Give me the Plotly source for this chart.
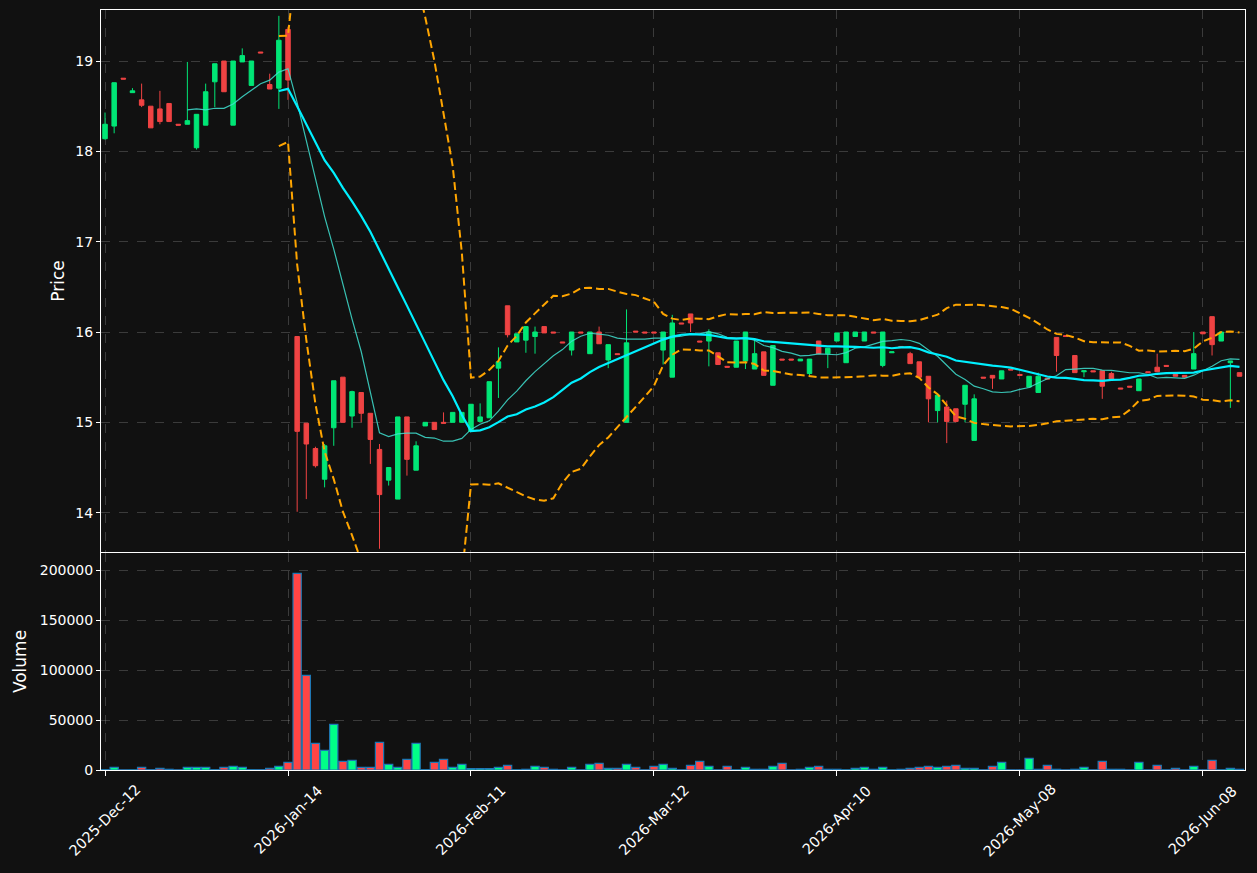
import pandas as pd
import numpy as np
import plotly.graph_objects as go

# ---------------- data ----------------
start_date = "2025-12-12"
holidays = ["2025-12-25", "2025-12-26", "2026-01-01", "2026-02-16", "2026-04-03", "2026-05-25"]
n_days = 125
dates = [d for d in pd.bdate_range(start_date, periods=140) if d.strftime("%Y-%m-%d") not in holidays][:n_days]
date_labels = [d.strftime("%Y-%b-%d") for d in dates]

open_ = [18.14, 18.28, 18.81, 18.65, 18.57, 18.50, 18.47, 18.53, 18.30, 18.30,
         18.04, 18.29, 18.77, 19.00, 18.29, 18.99, 18.73, 19.10, 18.74, 18.70,
         19.35, 15.95, 14.99, 14.71, 14.37, 14.94, 15.50, 15.07, 15.33, 15.10,
         14.70, 14.36, 14.15, 15.06, 14.47, 14.96, 15.00, 15.00, 15.00, 15.00,
         14.90, 15.01, 15.05, 15.60, 16.29, 15.89, 15.91, 15.95, 16.06, 16.00,
         15.89, 15.80, 16.00, 15.76, 16.00, 15.69, 15.76, 15.00, 16.01, 16.00,
         16.00, 15.80, 15.50, 16.10, 16.20, 15.90, 15.90, 15.77, 15.62, 15.61,
         15.68, 15.59, 15.78, 15.41, 15.70, 15.70, 15.68, 15.54, 15.90, 15.76,
         15.90, 15.66, 15.95, 15.90, 16.00, 15.63, 15.77, 15.84, 15.76, 15.67,
         15.51, 15.13, 15.17, 15.15, 15.20, 14.80, 15.50, 15.52, 15.48, 15.59,
         15.53, 15.39, 15.33, 15.49, 15.94, 15.96, 15.74, 15.56, 15.57, 15.57,
         15.54, 15.38, 15.40, 15.35, 15.56, 15.61, 15.63, 15.53, 15.52, 15.59,
         16.00, 16.17, 15.90, 15.66, 15.55]
high = [18.43, 18.76, 18.81, 18.70, 18.75, 18.50, 18.67, 18.53, 18.30, 18.99,
        18.41, 18.75, 18.97, 19.00, 19.00, 19.14, 19.00, 19.10, 18.86, 19.50,
        19.38, 15.95, 14.99, 14.73, 14.76, 15.46, 15.50, 15.35, 15.33, 15.10,
        14.76, 14.50, 15.06, 15.06, 14.79, 15.00, 15.00, 15.11, 15.11, 15.11,
        15.20, 15.21, 15.45, 15.83, 16.29, 15.98, 16.06, 16.06, 16.06, 16.00,
        15.89, 16.00, 16.00, 16.00, 16.06, 15.86, 15.76, 16.25, 16.01, 16.00,
        16.00, 16.00, 16.19, 16.10, 16.20, 15.90, 16.03, 15.77, 15.62, 15.90,
        16.00, 15.92, 15.78, 15.85, 15.70, 15.70, 15.70, 15.70, 15.90, 15.82,
        15.99, 16.00, 16.00, 16.00, 16.00, 16.00, 15.78, 15.84, 15.78, 15.67,
        15.51, 15.30, 15.24, 15.15, 15.41, 15.31, 15.50, 15.52, 15.57, 15.59,
        15.53, 15.51, 15.55, 15.49, 15.94, 15.96, 15.74, 15.57, 15.57, 15.57,
        15.56, 15.38, 15.40, 15.48, 15.56, 15.76, 15.63, 15.53, 15.52, 16.00,
        16.00, 16.17, 16.00, 15.68, 15.55]
low = [18.13, 18.20, 18.80, 18.65, 18.49, 18.26, 18.30, 18.33, 18.29, 18.30,
       18.02, 18.29, 18.49, 18.66, 18.29, 18.99, 18.73, 19.09, 18.69, 18.47,
       18.57, 14.01, 14.15, 14.50, 14.28, 14.74, 15.00, 14.94, 15.00, 14.54,
       13.60, 14.30, 14.15, 14.41, 14.47, 14.96, 14.92, 14.99, 15.00, 15.00,
       14.90, 15.00, 15.05, 15.27, 15.94, 15.89, 15.77, 15.76, 15.99, 15.99,
       15.88, 15.74, 15.99, 15.76, 15.87, 15.60, 15.75, 15.00, 16.00, 15.99,
       15.99, 15.64, 15.50, 16.09, 16.00, 15.89, 15.62, 15.64, 15.61, 15.61,
       15.59, 15.59, 15.52, 15.41, 15.69, 15.69, 15.68, 15.52, 15.76, 15.60,
       15.90, 15.66, 15.95, 15.90, 15.99, 15.61, 15.77, 15.83, 15.65, 15.50,
       15.00, 15.00, 14.77, 15.00, 15.00, 14.80, 15.49, 15.37, 15.48, 15.58,
       15.52, 15.39, 15.33, 15.48, 15.56, 15.95, 15.55, 15.50, 15.56, 15.26,
       15.48, 15.37, 15.39, 15.35, 15.55, 15.56, 15.62, 15.51, 15.50, 15.59,
       15.98, 15.74, 15.90, 15.16, 15.51]
close = [18.30, 18.76, 18.80, 18.67, 18.51, 18.26, 18.33, 18.33, 18.29, 18.34,
         18.41, 18.66, 18.97, 18.66, 19.00, 19.06, 19.00, 19.09, 18.69, 19.23,
         18.79, 14.90, 14.76, 14.52, 14.74, 15.46, 15.00, 15.34, 15.10, 14.81,
         14.20, 14.50, 15.06, 14.59, 14.74, 15.00, 14.92, 14.99, 15.11, 15.11,
         15.20, 15.06, 15.45, 15.67, 15.97, 15.98, 16.06, 16.00, 15.99, 15.99,
         15.88, 16.00, 15.99, 16.00, 15.87, 15.86, 15.75, 15.88, 16.00, 15.99,
         15.99, 16.00, 16.10, 16.09, 16.10, 15.89, 16.00, 15.64, 15.61, 15.90,
         16.00, 15.76, 15.52, 15.85, 15.69, 15.69, 15.70, 15.70, 15.76, 15.82,
         15.99, 16.00, 16.00, 16.00, 15.99, 16.00, 15.78, 15.83, 15.65, 15.50,
         15.26, 15.30, 15.01, 15.01, 15.41, 15.26, 15.49, 15.49, 15.57, 15.58,
         15.52, 15.51, 15.51, 15.48, 15.74, 15.95, 15.55, 15.57, 15.56, 15.40,
         15.48, 15.37, 15.39, 15.48, 15.55, 15.56, 15.62, 15.51, 15.50, 15.76,
         15.98, 15.86, 16.00, 15.68, 15.51]
volume = [300, 2700, 200, 200, 2700, 300, 1700, 700, 200, 2700,
          2700, 2700, 300, 2700, 3700, 2700, 300, 300, 1700, 3700,
          7700, 196700, 94700, 26700, 19700, 45700, 8700, 9700, 2700, 2700,
          27700, 5700, 2700, 10700, 26700, 300, 7700, 10700, 2700, 5700,
          1300, 1300, 1300, 2700, 4700, 200, 700, 3700, 2700, 700,
          200, 2700, 200, 5700, 6700, 1700, 1700, 5700, 2700, 200,
          3700, 5700, 1700, 200, 4700, 8700, 3700, 200, 3700, 200,
          2700, 700, 700, 3700, 6700, 200, 700, 2700, 3700, 700,
          700, 200, 1700, 2700, 700, 2700, 200, 700, 1700, 2700,
          3700, 2700, 3700, 4700, 1700, 1700, 200, 3700, 7700, 200,
          200, 11700, 700, 4700, 700, 200, 700, 2700, 200, 8700,
          700, 700, 200, 7700, 200, 4700, 200, 1700, 200, 3700,
          200, 9700, 200, 1700, 700]

ma_short_window = 10
ma_long_window = 20
bb_k = 2

# ---------------- indicators ----------------
close_s = pd.Series(close)
ma_short = close_s.rolling(ma_short_window).mean()
ma_long = close_s.rolling(ma_long_window).mean()
std_long = close_s.rolling(ma_long_window).std(ddof=0)
bb_up = ma_long + bb_k * std_long
bb_lo = ma_long - bb_k * std_long

UP = "#00e676"
DOWN = "#ef4343"
vol_colors = ["#00ff88" if c >= o else "#ff4545" for o, c in zip(open_, close)]

fig = go.Figure()

fig.add_trace(go.Candlestick(
    x=date_labels, open=open_, high=high, low=low, close=close,
    increasing=dict(line=dict(color=UP, width=1), fillcolor=UP),
    decreasing=dict(line=dict(color=DOWN, width=1), fillcolor=DOWN),
    whiskerwidth=0, xaxis="x", yaxis="y", showlegend=False,
))
fig.add_trace(go.Scatter(x=date_labels, y=ma_short, mode="lines",
                         line=dict(color="rgba(64,224,208,0.85)", width=1.2),
                         xaxis="x", yaxis="y", showlegend=False))
fig.add_trace(go.Scatter(x=date_labels, y=ma_long, mode="lines",
                         line=dict(color="#00f0ff", width=2.2),
                         xaxis="x", yaxis="y", showlegend=False))
for band in (bb_up, bb_lo):
    fig.add_trace(go.Scatter(x=date_labels, y=band, mode="lines",
                             line=dict(color="#ffa500", width=2, dash="8px,4px"),
                             xaxis="x", yaxis="y", showlegend=False))

fig.add_trace(go.Bar(x=date_labels, y=volume, marker=dict(color=vol_colors,
                     line=dict(color="#1f77b4", width=1.2)),
                     width=0.9, xaxis="x2", yaxis="y2", showlegend=False))

tick_idx = list(range(0, n_days, 20))
tickvals = [date_labels[i] for i in tick_idx]

grid = "rgba(255,255,255,0.18)"
font = dict(family="DejaVu Sans", color="#ffffff", size=14)
common_x = dict(type="category", range=[-0.44, 124.6], tickvals=tickvals,
                showgrid=True, gridcolor=grid, griddash="dash", gridwidth=1,
                showline=True, linecolor="#ffffff", linewidth=1, mirror=True,
                zeroline=False)

# x tick labels centred on their ticks (rotated 45 degrees)
for lab in tickvals:
    fig.add_annotation(x=lab, y=-0.066, xref="x2", yref="paper",
                       text=lab, textangle=-45, showarrow=False,
                       xanchor="center", yanchor="middle",
                       font=dict(family="DejaVu Sans", color="#ffffff", size=14.5))

fig.update_layout(
    width=1257, height=873,
    margin=dict(l=101, r=12, t=10, b=103),
    paper_bgcolor="#111111", plot_bgcolor="#111111",
    font=font,
    xaxis=dict(**common_x, domain=[0, 1], anchor="y", matches="x2",
               showticklabels=False, ticks="", rangeslider=dict(visible=False)),
    yaxis=dict(domain=[0.2868, 1], range=[13.564, 19.565], anchor="x",
               tickvals=[14, 15, 16, 17, 18, 19], ticks="outside", ticklen=4,
               tickcolor="#ffffff", showgrid=True, gridcolor=grid, griddash="dash",
               showline=True, linecolor="#ffffff", mirror=True, zeroline=False,
               title=dict(text="Price", standoff=6)),
    xaxis2=dict(**common_x, domain=[0, 1], anchor="y2",
                ticks="outside", ticklen=5, tickcolor="#ffffff",
                showticklabels=False),
    yaxis2=dict(domain=[0, 0.2855], range=[0, 217000], anchor="x2",
                tickvals=[0, 50000, 100000, 150000, 200000], tickformat="d",
                ticks="outside", ticklen=4, tickcolor="#ffffff",
                showgrid=True, gridcolor=grid, griddash="dash",
                showline=True, linecolor="#ffffff", mirror=True, zeroline=False,
                title=dict(text="Volume", standoff=8)),
    bargap=0.1,
)

fig.write_html("out.html",
               config={"displayModeBar": False},
               post_script="document.body.style.margin='0px';"
                           "document.body.style.background='#111111';")
